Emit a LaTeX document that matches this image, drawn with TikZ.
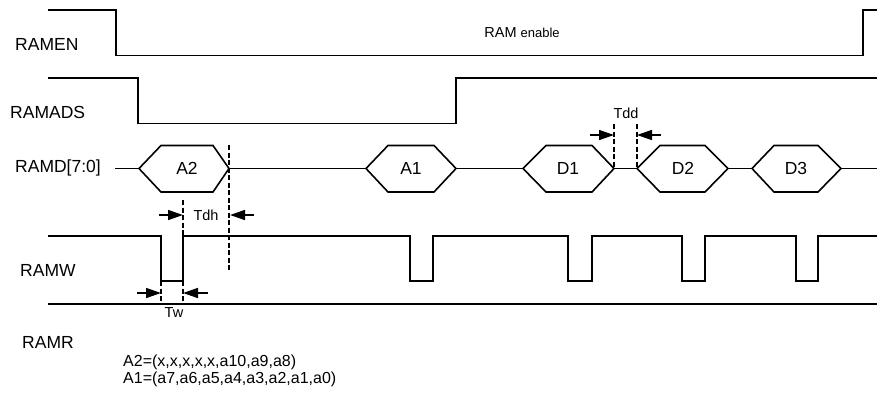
\documentclass[tikz,border=0pt]{standalone}
\usepackage{fontspec}
\setmainfont{Liberation Sans}
\usetikzlibrary{arrows.meta}
\begin{document}
\begin{tikzpicture}[x=1pt,y=-1pt,
  sig/.style={line width=1.6pt, line join=miter},
  thin sig/.style={line width=1.1pt},
  guide/.style={dashed, dash pattern=on 5pt off 2.5pt, line width=1.2pt},
  harrow/.style={-{Triangle[length=15pt,width=10pt]}, line width=1.5pt},
  lbl/.style={inner sep=0pt, anchor=west, font=\fontsize{17.5}{20}\selectfont},
  hexlbl/.style={inner sep=0pt, font=\fontsize{17.5}{20}\selectfont},
  tlbl/.style={inner sep=0pt, font=\fontsize{14.5}{16}\selectfont}]
\useasboundingbox (0,0) rectangle (877,397);

% labels
\node[lbl] (lramen) at (15,44.5) {RAMEN};
\node[lbl] (lramads) at (10,112) {RAMADS};
\node[lbl] (lramd) at (15,168) {RAMD[7:0]};
\node[lbl] (lramw) at (20,270) {RAMW};
\node[lbl] (lramr) at (22,342) {RAMR};
\node[inner sep=0pt] (enable) at (522,33) {\fontsize{14.5}{16}\selectfont RAM \fontsize{13}{16}\selectfont enable};

% RAMEN
\draw[sig] (48,10) -- (116,10) -- (116,55.5) -- (863,55.5) -- (863,10) -- (877,10);
% RAMADS
\draw[sig] (48,78) -- (138,78) -- (138,123.5) -- (456,123.5) -- (456,78) -- (877,78);

% RAMD bus
\draw[sig] (115,168.5) -- (139,168.5);
\draw[sig] (139,168.5) -- (161,145.5) -- (213,145.5) -- (229,168.5) -- (213,192) -- (161,192) -- cycle;
\draw[sig] (229,168.5) -- (366,168.5);
\draw[sig] (366,168.5) -- (388,145.5) -- (434,145.5) -- (456,168.5) -- (434,192) -- (388,192) -- cycle;
\draw[thin sig] (456,168.5) -- (523,168.5);
\draw[sig] (523,168.5) -- (546,145.5) -- (592,145.5) -- (614,168.5) -- (592,192) -- (546,192) -- cycle;
\draw[sig] (614,168.5) -- (637,168.5);
\draw[sig] (637,168.5) -- (660,145.5) -- (705,145.5) -- (728,168.5) -- (705,192) -- (660,192) -- cycle;
\draw[sig] (728,168.5) -- (752,168.5);
\draw[sig] (752,168.5) -- (774,145.5) -- (818,145.5) -- (841,168.5) -- (818,192) -- (774,192) -- cycle;
\draw[sig] (841,168.5) -- (877,168.5);

\node[hexlbl] (ha2) at (187,168.5) {A2};
\node[hexlbl] (ha1) at (411,168.5) {A1};
\node[hexlbl] (hd1) at (568,168.5) {D1};
\node[hexlbl] (hd2) at (683,168.5) {D2};
\node[hexlbl] (hd3) at (796,168.5) {D3};

% RAMW
\draw[sig] (48,236) -- (161,236) -- (161,281) -- (183,281) -- (183,236) -- (410,236) -- (410,281) -- (433,281) -- (433,236)
  -- (568,236) -- (568,281) -- (592,281) -- (592,236) -- (682,236) -- (682,281) -- (705,281) -- (705,236)
  -- (796,236) -- (796,281) -- (818,281) -- (818,236) -- (877,236);
% RAMR
\draw[sig] (48,304) -- (877,304);

% guide lines
\draw[guide] (229,145) -- (229,270);
\draw[guide] (183,200) -- (183,236);
\draw[guide] (183,281) -- (183,303);
\draw[guide] (161,281) -- (161,303);
\draw[guide] (614,124) -- (614,168.5);
\draw[guide] (637,124) -- (637,168.5);

% Tdh
\coordinate (tdhA) at (159,215); \coordinate (tdhB) at (183,215);
\coordinate (tdhC) at (254,215); \coordinate (tdhD) at (230,215);
\draw[harrow] (tdhA) -- (tdhB);
\draw[harrow] (tdhC) -- (tdhD);
\node[tlbl] (tdh) at (206,215) {Tdh};

% Tw
\coordinate (twA) at (137,293); \coordinate (twB) at (161,293);
\coordinate (twC) at (208,293); \coordinate (twD) at (183,293);
\draw[harrow] (twA) -- (twB);
\draw[harrow] (twC) -- (twD);
\node[tlbl] (tw) at (174,313) {Tw};

% Tdd
\coordinate (tddA) at (590,135); \coordinate (tddB) at (614,135);
\coordinate (tddC) at (661,135); \coordinate (tddD) at (637,135);
\draw[harrow] (tddA) -- (tddB);
\draw[harrow] (tddC) -- (tddD);
\node[tlbl] (tdd) at (626,113) {Tdd};

% notes
\node[inner sep=0pt, anchor=west, font=\fontsize{16}{17}\selectfont] (n1) at (123,362) {A2=(x,x,x,x,x,a10,a9,a8)};
\node[inner sep=0pt, anchor=west, font=\fontsize{16}{17}\selectfont] (n2) at (123,379) {A1=(a7,a6,a5,a4,a3,a2,a1,a0)};
\end{tikzpicture}
\end{document}
